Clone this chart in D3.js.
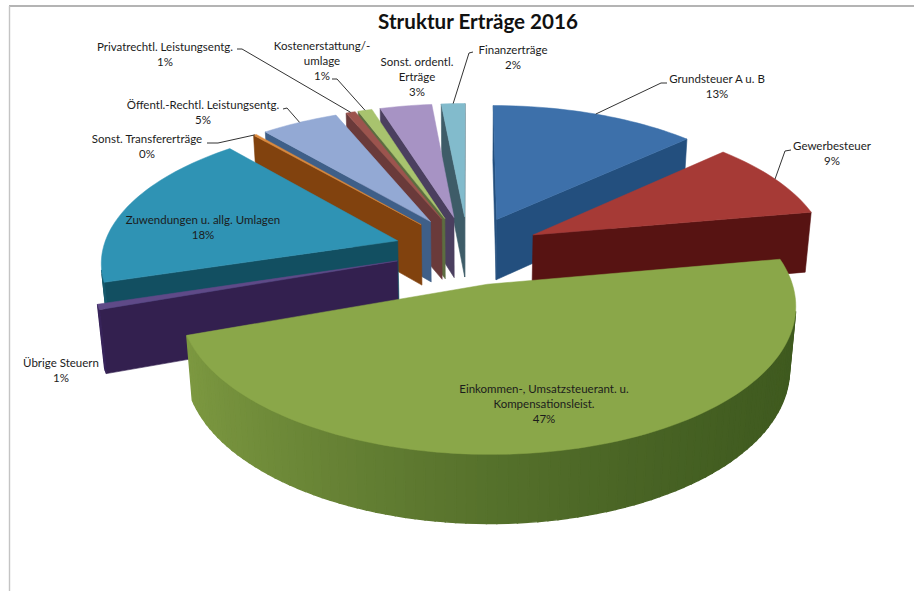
<!DOCTYPE html>
<html lang="de">
<head>
<meta charset="utf-8">
<title>Struktur Erträge 2016</title>
<script src="https://cdn.jsdelivr.net/npm/d3@7"></script>
<style>
  html, body { margin: 0; padding: 0; background: #fff; }
  svg { display: block; }
  text { font-family: Lato, "Open Sans", sans-serif; fill: #1c1c1c; }
</style>
</head>
<body>
<svg id="chart" width="914" height="591"></svg>
<script>
// Ertragsarten, clockwise from twelve o'clock
const categories = [
  "Grundsteuer A u. B", "Gewerbesteuer", "Einkommen-, Umsatzsteuerant. u. Kompensationsleist.",
  "Übrige Steuern", "Zuwendungen u. allg. Umlagen", "Sonst. Transfererträge",
  "Öffentl.-Rechtl. Leistungsentg.", "Privatrechtl. Leistungsentg.", "Kostenerstattung/-umlage",
  "Sonst. ordentl. Erträge", "Finanzerträge"
];
const shares = [13.1, 9.1, 47.4, 0.6, 18.4, 0.2, 4.9, 0.6, 0.9, 3.3, 1.5];

// Slice colours: top face, then side walls at their darkest and lightest
const topColours  = ["#3d70aa", "#a63a36", "#8aa749", "#5f4a88", "#2f93b4", "#dd8a3c", "#93a9d4", "#9c544e", "#a8c36e", "#a793c4", "#82bbcc"];
const wallDark    = ["#234f7e", "#571312", "#3f5a1f", "#33204f", "#124f61", "#81420e", "#3f5f88", "#6a3a3a", "#5d6d40", "#4b3f5f", "#3e5c68"];
const wallLight   = ["#2a5b8f", "#631817", "#7f9b42", "#38245a", "#17596c", "#8a4812", "#466a96", "#74403f", "#667846", "#544668", "#456571"];

// Label lines and their anchor inside the svg
const labelLines = [
  ["Grundsteuer A u. B"], ["Gewerbesteuer"], ["Einkommen-, Umsatzsteuerant. u.", "Kompensationsleist."],
  ["Übrige Steuern"], ["Zuwendungen u. allg. Umlagen"], ["Sonst. Transfererträge"],
  ["Öffentl.-Rechtl. Leistungsentg."], ["Privatrechtl. Leistungsentg."], ["Kostenerstattung/-", "umlage"],
  ["Sonst. ordentl.", "Erträge"], ["Finanzerträge"]
];
const labelAnchors = [[717, 83], [832, 150], [544, 393], [61, 367], [203, 224], [147, 143], [203, 109], [165, 51], [322, 50], [417, 66], [513, 54]];

// Leader line bends for labelled slices (start near the label, then an elbow); null = no leader
const leaderBends = [
  [[667, 83], [661, 83]], [[791, 150], [785, 151]], null, null, null,
  [[207, 143], [218, 143]], [[283, 109], [287, 108]], [[237, 49], [242, 49]],
  [[332, 79], [337, 79]], null, [[473, 52], [469, 53]]
];

// Projection of the pie plane: Y runs toward the viewer, Z upward
const centre = [468, 250];
const scaleX = 295, scaleY = 137, scaleZ = 261;
const perspY = 0.135, perspZ = 0.077;
const explode = 0.25;
const thickness = 0.24;

const project = (X, Y, Z) => {
  const s = 1 / (1 - perspY * Y - perspZ * Z);
  return [centre[0] + scaleX * X * s, centre[1] + scaleY * Y * s - scaleZ * Z * s];
};

const svg = d3.select("#chart");

// Frame of the chart area
svg.append("line").attr("x1", 9).attr("x2", 914).attr("y1", 6).attr("y2", 6)
  .attr("stroke", "#9b9b9b").attr("stroke-width", 1.4);
svg.append("line").attr("x1", 9.5).attr("x2", 9.5).attr("y1", 6).attr("y2", 591)
  .attr("stroke", "#c4c4c4").attr("stroke-width", 1.4);

svg.append("text").attr("x", 478).attr("y", 29).attr("text-anchor", "middle")
  .style("font-size", "20.6px").style("font-weight", 700).style("fill", "#111")
  .text("Struktur Erträge 2016");

const pie = d3.pie().sort(null).value(d => d);
const arcs = pie(shares).map((a, i) => {
  const mid = (a.startAngle + a.endAngle) / 2;
  return { i, start: a.startAngle, end: a.endAngle, mid, ox: explode * Math.sin(mid), oy: -explode * Math.cos(mid) };
});

const line = d3.line();
const rim = (s, ang, Z) => project(s.ox + Math.sin(ang), s.oy - Math.cos(ang), Z);
const apex = (s, Z) => project(s.ox, s.oy, Z);

// Positive on screen when the corners run clockwise, i.e. the wall faces the viewer
const facesViewer = pts => d3.polygonArea(pts) > 0;

const marks = svg.append("g");
const slices = arcs.slice().sort((a, b) => a.oy - b.oy);

slices.forEach(s => {
  const g = marks.append("g").attr("class", "slice");
  const wall = (pts, fill, width) => {
    if (!facesViewer(pts)) return;
    g.append("path").attr("d", line(pts) + "Z").attr("fill", fill).attr("stroke", fill).attr("stroke-width", width);
  };
  const dark = wallDark[s.i], light = wallLight[s.i];
  // Light falls from the left: walls get darker toward the right-hand side
  const sideTint = ang => d3.interpolateRgb(dark, light)(Math.pow((1 - Math.sin(ang)) / 2, 1.5));

  // Radial walls
  wall([apex(s, 0), rim(s, s.start, 0), rim(s, s.start, -thickness), apex(s, -thickness)], dark, 0.6);
  wall([rim(s, s.end, 0), apex(s, 0), apex(s, -thickness), rim(s, s.end, -thickness)], dark, 0.6);

  // Outer wall in short strips, shaded by their direction
  const steps = Math.max(2, Math.ceil((s.end - s.start) / 0.03));
  d3.range(steps).forEach(k => {
    const a0 = s.start + (s.end - s.start) * k / steps;
    const a1 = s.start + (s.end - s.start) * (k + 1) / steps;
    wall([rim(s, a0, 0), rim(s, a1, 0), rim(s, a1, -thickness), rim(s, a0, -thickness)], sideTint((a0 + a1) / 2), 1.4);
  });

  // Top face
  const outline = d3.range(steps + 1).map(k => rim(s, s.start + (s.end - s.start) * k / steps, 0));
  g.append("path").attr("d", line([apex(s, 0), ...outline]) + "Z")
    .attr("fill", topColours[s.i]).attr("stroke", topColours[s.i]).attr("stroke-width", 0.5);
});

// Leader lines from the labels to the middle of each slice's rim
const leaders = svg.append("g").attr("fill", "none").attr("stroke", "#333").attr("stroke-width", 1);
arcs.forEach(s => {
  const bends = leaderBends[s.i];
  if (!bends) return;
  leaders.append("path").attr("d", line([...bends, rim(s, s.mid, 0)]));
});

// Labels: name lines, then the rounded share
const labels = svg.append("g").attr("text-anchor", "middle").style("font-size", "11.5px");
arcs.forEach(s => {
  const [x, y] = labelAnchors[s.i];
  const rows = [...labelLines[s.i], Math.round(shares[s.i]) + "%"];
  rows.forEach((row, r) => {
    labels.append("text").attr("x", x).attr("y", y + r * 15.2).text(row);
  });
});
</script>
</body>
</html>
